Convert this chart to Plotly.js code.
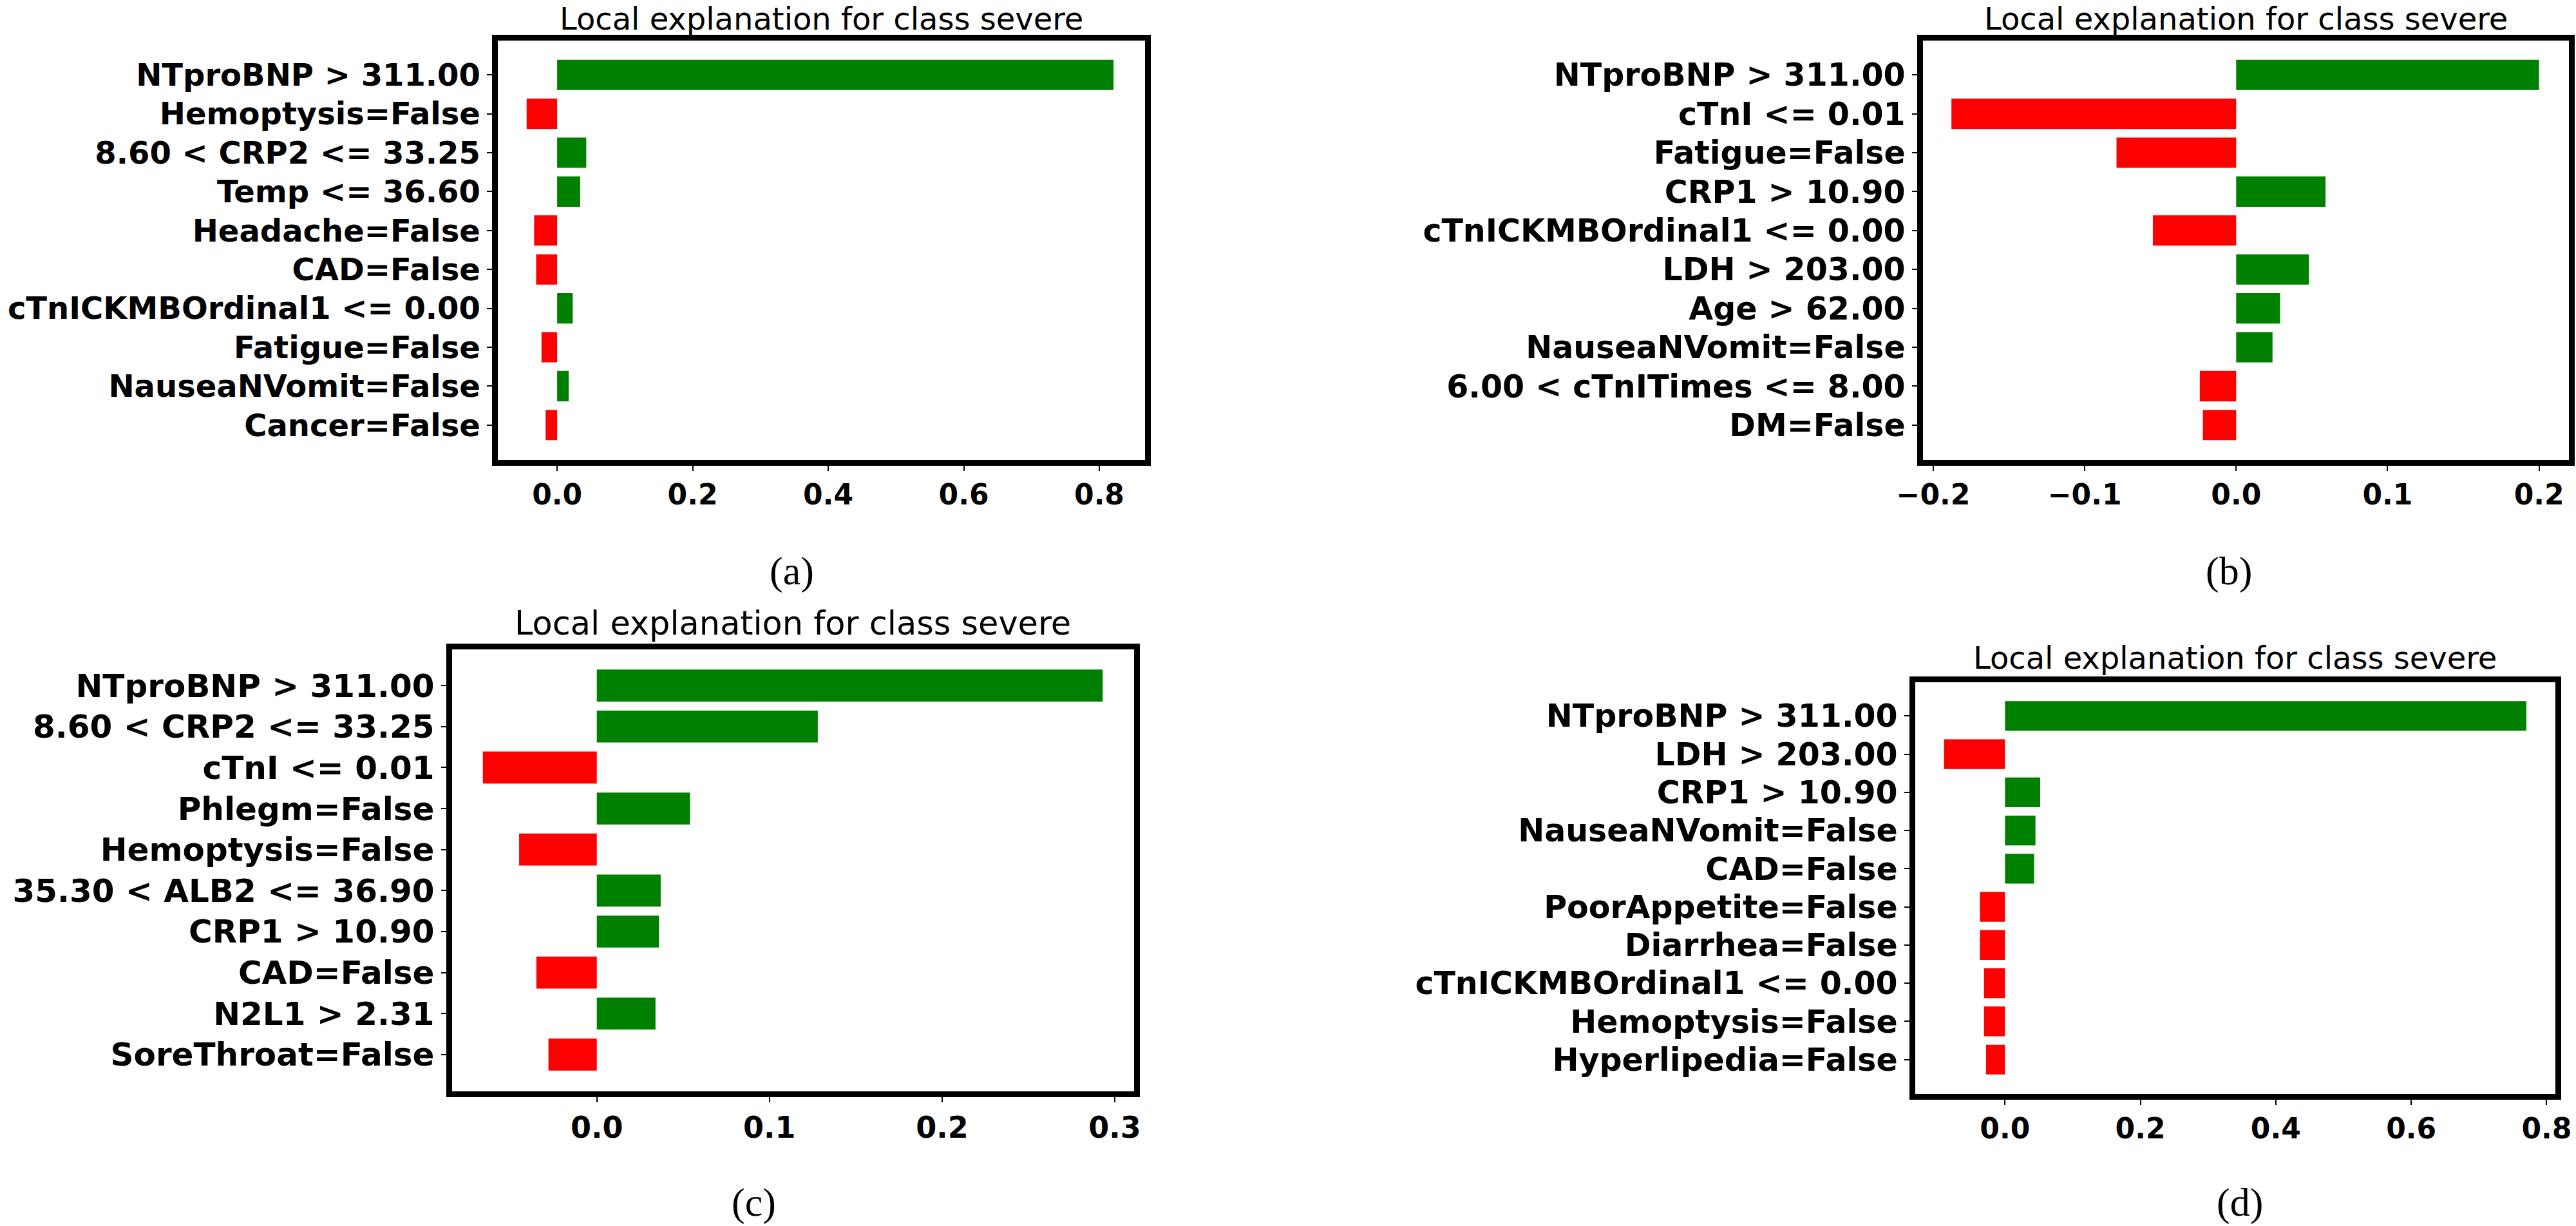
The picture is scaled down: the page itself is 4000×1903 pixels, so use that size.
<!DOCTYPE html>
<html>
<head>
<meta charset="utf-8">
<script src="https://cdn.plot.ly/plotly-3.0.1.min.js"></script>
<style>
  html, body { margin: 0; padding: 0; background: #fff; }
  #chart { width: 4000px; height: 1903px; }
</style>
</head>
<body>
<div id="chart"></div>
<script>
// LIME local explanations, class "severe" (four patients)
const labelsA = ['NTproBNP > 311.00', 'Hemoptysis=False', '8.60 < CRP2 <= 33.25', 'Temp <= 36.60', 'Headache=False',
  'CAD=False', 'cTnICKMBOrdinal1 <= 0.00', 'Fatigue=False', 'NauseaNVomit=False', 'Cancer=False'];
const valuesA = [0.821, -0.045, 0.043, 0.034, -0.034, -0.031, 0.023, -0.023, 0.017, -0.017];

const labelsB = ['NTproBNP > 311.00', 'cTnI <= 0.01', 'Fatigue=False', 'CRP1 > 10.90', 'cTnICKMBOrdinal1 <= 0.00',
  'LDH > 203.00', 'Age > 62.00', 'NauseaNVomit=False', '6.00 < cTnITimes <= 8.00', 'DM=False'];
const valuesB = [0.200, -0.188, -0.079, 0.059, -0.055, 0.048, 0.029, 0.024, -0.024, -0.022];

const labelsC = ['NTproBNP > 311.00', '8.60 < CRP2 <= 33.25', 'cTnI <= 0.01', 'Phlegm=False', 'Hemoptysis=False',
  '35.30 < ALB2 <= 36.90', 'CRP1 > 10.90', 'CAD=False', 'N2L1 > 2.31', 'SoreThroat=False'];
const valuesC = [0.293, 0.128, -0.066, 0.054, -0.045, 0.037, 0.036, -0.035, 0.034, -0.028];

const labelsD = ['NTproBNP > 311.00', 'LDH > 203.00', 'CRP1 > 10.90', 'NauseaNVomit=False', 'CAD=False',
  'PoorAppetite=False', 'Diarrhea=False', 'cTnICKMBOrdinal1 <= 0.00', 'Hemoptysis=False', 'Hyperlipedia=False'];
const valuesD = [0.770, -0.090, 0.052, 0.045, 0.043, -0.037, -0.037, -0.031, -0.031, -0.028];

const panelTitle = 'Local explanation for class severe';
const captions = ['(a)', '(b)', '(c)', '(d)'];

const W = 4000, H = 1903;
const GREEN = '#008000', RED = '#ff0000';
const LW = 9; // frame thickness

// pixel helpers -> paper fractions (frame centre lines given, shrink by half the line)
const xd = (x0, x1) => [(x0 + LW / 2) / W, (x1 - LW / 2) / W];
const yd = (top, bottom) => [1 - (bottom - LW / 2) / H, 1 - (top + LW / 2) / H];

function barTrace(labels, values, n) {
  return {
    type: 'bar',
    orientation: 'h',
    y: labels,
    x: values,
    width: 0.78,
    marker: { color: values.map(v => v > 0 ? GREEN : RED) },
    xaxis: 'x' + (n === 1 ? '' : n),
    yaxis: 'y' + (n === 1 ? '' : n),
    hoverinfo: 'x+y',
    showlegend: false
  };
}

function frame(ax) {
  return Object.assign(ax, {
    ticks: 'outside',
    ticklen: 8,
    tickwidth: 2,
    tickcolor: '#000',
    showgrid: false,
    zeroline: false,
    showline: true,
    mirror: true,
    linewidth: LW,
    linecolor: '#000'
  });
}

function xAxis(domain, range, dtick, n, fs) {
  return frame({
    domain: domain,
    anchor: 'y' + (n === 1 ? '' : n),
    range: range,
    dtick: dtick,
    tick0: 0,
    tickformat: '.1f',
    tickfont: { family: 'DejaVu Sans', size: fs, color: '#000', weight: 'bold' }
  });
}

function yAxis(domain, n, fs) {
  return frame({
    domain: domain,
    anchor: 'x' + (n === 1 ? '' : n),
    type: 'category',
    range: [9.89, -0.89],
    tickfont: { family: 'DejaVu Sans', size: fs, color: '#000', weight: 'bold' }
  });
}

const data = [
  barTrace(labelsA, valuesA, 1),
  barTrace(labelsB, valuesB, 2),
  barTrace(labelsC, valuesC, 3),
  barTrace(labelsD, valuesD, 4)
];

// title centres and caption centres in pixels
const titlePos = [[1275, 29, 48], [3487, 29, 48], [1231, 968, 51], [3470, 1021, 48]];
const captionPos = [[1229, 887], [3461, 887], [1170, 1866], [3478, 1866]];

const annotations = [];
titlePos.forEach(([x, y, fs]) => {
  annotations.push({
    text: panelTitle, xref: 'paper', yref: 'paper', x: x / W, y: 1 - y / H,
    xanchor: 'center', yanchor: 'middle', showarrow: false,
    font: { family: 'DejaVu Sans', size: fs, color: '#000' }
  });
});
captionPos.forEach(([x, y], i) => {
  annotations.push({
    text: captions[i], xref: 'paper', yref: 'paper', x: x / W, y: 1 - y / H,
    xanchor: 'center', yanchor: 'middle', showarrow: false,
    font: { family: 'Liberation Serif', size: 62, color: '#000' }
  });
});

const layout = {
  width: W,
  height: H,
  margin: { l: 0, r: 0, t: 0, b: 0 },
  paper_bgcolor: '#fff',
  plot_bgcolor: '#fff',
  showlegend: false,
  xaxis: xAxis(xd(768, 1782), [-0.088, 0.867], 0.2, 1, 44),
  yaxis: yAxis(yd(58, 718), 1, 48),
  xaxis2: xAxis(xd(2981, 3993), [-0.207, 0.2195], 0.1, 2, 44),
  yaxis2: yAxis(yd(58, 718), 2, 49),
  xaxis3: xAxis(xd(697, 1765), [-0.084, 0.311], 0.1, 3, 46),
  yaxis3: yAxis(yd(1003, 1698), 3, 50),
  xaxis4: xAxis(xd(2969, 3972), [-0.133, 0.8125], 0.2, 4, 44),
  yaxis4: yAxis(yd(1054, 1702), 4, 49),
  annotations: annotations
};

Plotly.newPlot('chart', data, layout, { staticPlot: true });
</script>
</body>
</html>
